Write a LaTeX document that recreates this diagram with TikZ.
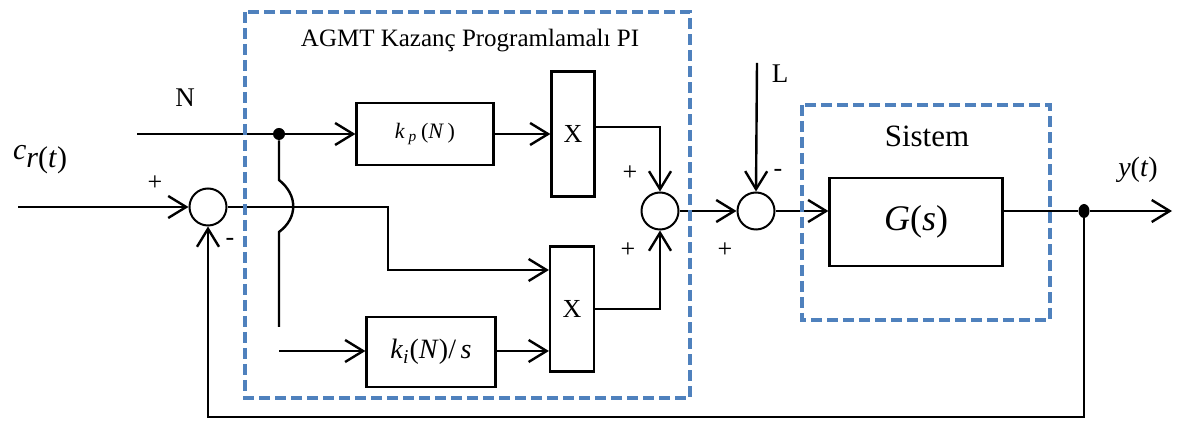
\documentclass[tikz,border=0pt]{standalone}
\usepackage{fontspec}
\setmainfont{Liberation Serif}
\usetikzlibrary{arrows.meta,shapes.geometric}

\definecolor{groupblue}{RGB}{79,129,189}

\tikzset{
  sig/.style={line width=1.2pt, -{Straight Barb[length=9pt,width=11pt,line width=1.2pt]}},
  wire/.style={line width=1.2pt},
  sumnode/.style={draw, circle, line width=1pt, minimum size=18.5pt, inner sep=0pt},
  blk/.style={draw, rectangle, line width=1.1pt, inner sep=0pt},
  dotnode/.style={fill, circle, inner sep=0pt, minimum size=6pt},
  group/.style={draw=groupblue, line width=2.3pt, dash pattern=on 5.5pt off 2.5pt},
  sgn/.style={font=\fontsize{13}{13}\selectfont, inner sep=0pt},
}

\begin{document}
\begin{tikzpicture}[x=0.5pt,y=-0.5pt]
  \useasboundingbox (0,0) rectangle (1183,421);

  % blocks
  \node[sumnode] (sum1) at (208,207) {};
  \node[sumnode] (sum2) at (660,211) {};
  \node[sumnode] (sum3) at (756,211) {};
  \node[blk, minimum width=68.5pt, minimum height=31pt,
        font=\fontsize{11}{11}\selectfont] (kp) at (425,134)
        {\textit{k}\,\textsubscript{\textit{p}}\,(\textit{N}\,)};
  \node[blk, minimum width=21.5pt, minimum height=62.5pt,
        font=\fontsize{13}{13}\selectfont] (X1) at (573,134) {X};
  \node[blk, minimum width=22pt, minimum height=62.5pt,
        font=\fontsize{13}{13}\selectfont] (X2) at (572,309) {X};
  \node[blk, minimum width=64.5pt, minimum height=35pt,
        font=\fontsize{14}{14}\selectfont] (ki) at (431,352)
        {\textit{k}\textsubscript{\textit{i}}(\textit{N})/\,\textit{s}};
  \node[blk, minimum width=86.5pt, minimum height=44pt,
        font=\fontsize{18}{18}\selectfont] (G) at (916,222)
        {\textit{G}(\textit{s})};

  % junctions and free ends
  \node[dotnode] (dotN) at (279,134) {};
  \node[dotnode, ellipse, minimum width=5.5pt, minimum height=7pt] (dotY) at (1084,211) {};
  \coordinate (inR) at (18,207);
  \coordinate (inN) at (137,134);
  \coordinate (inL) at (757,63);
  \coordinate (outY) at (1172,211);
  \coordinate (fb) at (1084,417);
  \coordinate (turn) at (388,270);
  \coordinate (hopA) at (279,180);
  \coordinate (hopB) at (279,232);
  \coordinate (vEnd) at (279,327);
  \coordinate (kiIn) at (279,351);

  % signal paths
  \draw[sig] (inR) -- (sum1);
  \draw[wire] (inN) -- (dotN);
  \draw[sig] (dotN) -- (kp);
  \draw[sig] (kp) -- (X1);
  \draw[sig] ([yshift=3.5pt]X1.east) -| (sum2.north);
  \draw[sig] (X2.east) -| (sum2.south);
  \draw[sig] (sum1.east) -- (turn |- sum1) -- (turn) -- (X2.west |- turn);
  \draw[wire] (dotN) -- (hopA) .. controls (298,195) and (298,218) .. (hopB) -- (vEnd);
  \draw[sig] (kiIn) -- (ki.west |- kiIn);
  \draw[sig] (ki.east |- kiIn) -- (X2.west |- kiIn);
  \draw[sig] (sum2) -- (sum3);
  \draw[sig] (inL) -- (sum3.north);
  \draw[sig] (sum3) -- (G.west |- sum3);
  \draw[wire] (G.east |- sum3) -- (dotY);
  \draw[sig] (dotY) -- (outY);
  \draw[sig] (dotY) -- (fb) -| (sum1.south);

  % dashed groups
  \draw[group] (245,12) rectangle (690,398);
  \draw[group] (802,105) rectangle (1050,320);

  % texts
  \node[font=\fontsize{12.5}{12.5}\selectfont] (piTitle) at (470,41) {AGMT Kazanç Programlamalı PI};
  \node[font=\fontsize{15.5}{15.5}\selectfont] (sysTitle) at (927,136) {Sistem};
  \node[font=\fontsize{13.5}{13.5}\selectfont] (labN) at (185,98) {N};
  \node[font=\fontsize{13.5}{13.5}\selectfont] (labL) at (780,74) {L};
  \node[font=\fontsize{14}{14}\selectfont] (labY) at (1138,170) {\textit{y}(\textit{t})};
  \node[font=\fontsize{15}{15}\selectfont] (labR) at (40,160)
        {\textit{c}\raisebox{-4pt}{\textit{r}(\textit{t})}};
  \node[sgn] (p1) at (155,183) {+};
  \node[sgn] (m1) at (230,242) {-};
  \node[sgn] (p2) at (630,173) {+};
  \node[sgn] (p3) at (628,250) {+};
  \node[sgn] (p4) at (725,250) {+};
  \node[sgn] (m2) at (778,173) {-};
\end{tikzpicture}
\end{document}
